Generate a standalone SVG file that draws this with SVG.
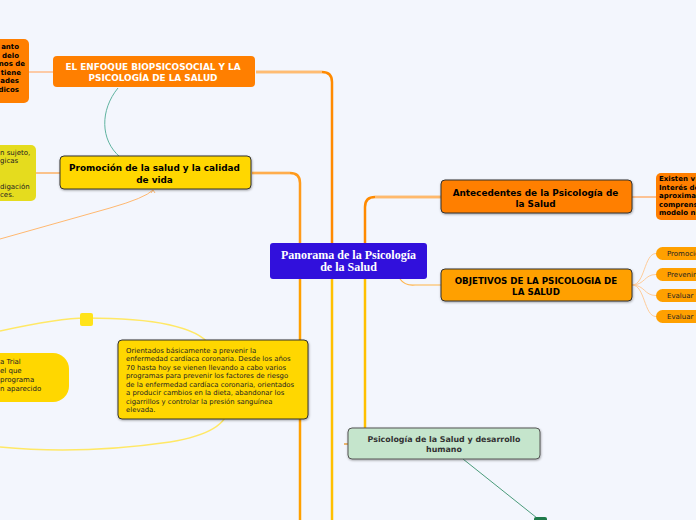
<svg xmlns="http://www.w3.org/2000/svg" width="696" height="520" viewBox="0 0 696 520">
<defs>
<filter id="sh" x="-10%" y="-20%" width="120%" height="150%"><feDropShadow dx="0.5" dy="1" stdDeviation="0.8" flood-color="#000" flood-opacity="0.35"/></filter>
<style>
.b{font-family:"DejaVu Sans","Liberation Sans",sans-serif;font-weight:bold}
.n{font-family:"DejaVu Sans","Liberation Sans",sans-serif}
.bd{stroke:#333;stroke-width:1}
</style>
</defs>
<rect width="696" height="520" fill="#f3f6fd"/>
<g id="connectors" fill="none">
<path d="M300,243 V183 Q300,173 290,173 H252" stroke="#ff9a1a" stroke-width="2.5"/>
<path d="M332,243 V82 Q332,72 322,72 H256" stroke="#ff8a00" stroke-width="2.5"/>
<path d="M256,72 H322" stroke="#ffcc99" stroke-width="1.5"/>
<path d="M252,173 H290" stroke="#ffbf80" stroke-width="1.2"/>
<path d="M365,243 V207 Q365,197 375,197 H441" stroke="#ff8a00" stroke-width="2.5"/>
<path d="M375,197 H441" stroke="#ffc890" stroke-width="1.5"/>
<path d="M300,279 V520" stroke="#ffa000" stroke-width="2.5"/>
<path d="M332,279 V520" stroke="#ffc000" stroke-width="2.5"/>
<path d="M365,279 V428" stroke="#ffc000" stroke-width="2.5"/>
<path d="M400,279 Q405,286 415,285 H441" stroke="#ffb347" stroke-width="1.2"/>
<path d="M632,197 H656" stroke="#ffb070" stroke-width="1.5"/>
<path d="M632,285 C645,285 644,253.5 656,253.5 M632,285 C645,285 644,274.5 656,274.5 M632,285 C645,285 644,295.5 656,295.5 M632,285 C645,285 644,316.5 656,316.5" stroke="#ffcc99" stroke-width="1"/>
<path d="M53,72 H29" stroke="#ffbb88" stroke-width="1.5"/>
<path d="M60,173 H36" stroke="#ffa040" stroke-width="1.2"/>
<path d="M118,88 C100,110 100,140 120,157" stroke="#5fb3a0" stroke-width="1"/>
<path d="M0,239 L110,208 Q145,198 153,190" stroke="#ffb870" stroke-width="1"/>
<path d="M151,193 L153,190 L155,193" stroke="#ffb870" stroke-width="1"/>
<path d="M0,331 Q60,318 86,318 Q190,318 210,345 M228,405 Q230,432 170,442 Q80,455 0,447" stroke="#ffe866" stroke-width="1.5"/>
<path d="M463,459 L537,518" stroke="#4a9b7a" stroke-width="1"/>
<path d="M344,444 H348" stroke="#e8a040" stroke-width="1.5"/>
</g>
<g id="n-left-orange">
<rect x="-20" y="39" width="49" height="64" rx="5" fill="#ff7f00"/>
<g class="b" font-size="7" fill="#000" text-anchor="end">
<text x="19" y="49">anto</text>
<text x="19" y="57.5">delo</text>
<text x="25" y="66">nos de</text>
<text x="21" y="74.5">tiene</text>
<text x="19" y="83">ades</text>
<text x="19" y="91.5">dicos</text>
</g>
</g>
<g id="n-enfoque">
<rect x="53" y="56" width="202" height="31" rx="4" fill="#ff7f00"/>
<g class="b" font-size="8.9" fill="#fff" text-anchor="middle">
<text x="153" y="69.5">EL ENFOQUE BIOPSICOSOCIAL Y LA</text>
<text x="153" y="81">PSICOLOGÍA DE LA SALUD</text>
</g>
</g>
<g id="n-left-yellow">
<rect x="-20" y="145" width="56" height="56" rx="5" fill="#e5dc1e"/>
<g class="n" font-size="7" fill="#222">
<text x="0" y="155">n sujeto,</text>
<text x="0" y="162.5">gicas</text>
<text x="0" y="189">digación</text>
<text x="0" y="197">ces.</text>
</g>
</g>
<g id="n-promocion">
<rect x="60" y="156" width="191" height="33" rx="4" fill="#ffd700" class="bd" filter="url(#sh)"/>
<g class="b" font-size="8.9" fill="#000" text-anchor="middle">
<text x="154.5" y="171">Promoción de la salud y la calidad</text>
<text x="154.5" y="182.5">de vida</text>
</g>
</g>
<g id="n-small-square">
<rect x="80" y="313" width="13" height="13" rx="2" fill="#ffe31a"/>
</g>
<g id="n-left-trial">
<rect x="-30" y="353" width="99" height="49" rx="16" fill="#ffd700"/>
<g class="n" font-size="7" fill="#222">
<text x="0" y="363.5">a Trial</text>
<text x="0" y="372.5">el que</text>
<text x="0" y="381.5">programa</text>
<text x="0" y="390.5">n aparecido</text>
</g>
</g>
<g id="n-orientados">
<rect x="118" y="340" width="190" height="79" rx="4" fill="#ffd700" class="bd" filter="url(#sh)"/>
<g class="n" font-size="6.9" fill="#222">
<text x="126" y="352.5">Orientados básicamente a prevenir la</text>
<text x="126" y="361">enfermedad cardíaca coronaria. Desde los años</text>
<text x="126" y="369.5">70 hasta hoy se vienen llevando a cabo varios</text>
<text x="126" y="378">programas para prevenir los factores de riesgo</text>
<text x="126" y="386.5">de la enfermedad cardíaca coronaria, orientados</text>
<text x="126" y="395">a producir cambios en la dieta, abandonar los</text>
<text x="126" y="403.5">cigarrillos y controlar la presión sanguínea</text>
<text x="126" y="412">elevada.</text>
</g>
</g>
<g id="n-central">
<rect x="270" y="243" width="157" height="36" rx="3" fill="#3110dc"/>
<g font-family="'Liberation Serif','DejaVu Serif',serif" font-weight="bold" font-size="12" fill="#fff" text-anchor="middle">
<text x="348.5" y="258.5">Panorama de la Psicología</text>
<text x="348.5" y="271">de la Salud</text>
</g>
</g>
<g id="n-antecedentes">
<rect x="441" y="180" width="191" height="33" rx="4" fill="#ff7f00" class="bd" filter="url(#sh)"/>
<g class="b" font-size="8.9" fill="#000" text-anchor="middle">
<text x="535.5" y="195.5">Antecedentes de la Psicología de</text>
<text x="535.5" y="207">la Salud</text>
</g>
</g>
<g id="n-existen">
<rect x="656" y="173" width="60" height="47" rx="5" fill="#ff7f00"/>
<g class="b" font-size="7" fill="#000">
<text x="659" y="181">Existen v</text>
<text x="659" y="189.5">Interés de</text>
<text x="659" y="198">aproxima</text>
<text x="659" y="206.5">comprens</text>
<text x="659" y="215">modelo n</text>
</g>
</g>
<g id="n-objetivos">
<rect x="441" y="269" width="191" height="32" rx="4" fill="#ffa000" class="bd" filter="url(#sh)"/>
<g class="b" font-size="8.7" fill="#000" text-anchor="middle">
<text x="536" y="283.5">OBJETIVOS DE LA PSICOLOGIA DE</text>
<text x="536" y="295">LA SALUD</text>
</g>
</g>
<g id="n-obj1"><rect x="656" y="247" width="60" height="13" rx="6.5" fill="#ffa000"/><text class="n" x="667" y="256" font-size="7" fill="#222">Promoción</text></g>
<g id="n-obj2"><rect x="656" y="268" width="60" height="13" rx="6.5" fill="#ffa000"/><text class="n" x="667" y="277" font-size="7" fill="#222">Prevenir</text></g>
<g id="n-obj3"><rect x="656" y="289" width="60" height="13" rx="6.5" fill="#ffa000"/><text class="n" x="667" y="298" font-size="7" fill="#222">Evaluar y</text></g>
<g id="n-obj4"><rect x="656" y="310" width="60" height="13" rx="6.5" fill="#ffa000"/><text class="n" x="667" y="319" font-size="7" fill="#222">Evaluar y</text></g>
<g id="n-desarrollo">
<rect x="348" y="428" width="192" height="31" rx="4" fill="#c5e5cc" stroke="#555" stroke-width="1" filter="url(#sh)"/>
<g class="b" font-size="7.9" fill="#333" text-anchor="middle">
<text x="444" y="441.5">Psicología de la Salud y desarrollo</text>
<text x="444" y="452">humano</text>
</g>
</g>
<g id="n-green-small">
<rect x="534" y="517" width="13" height="10" rx="2" fill="#1f7a4a"/>
</g>
</svg>
